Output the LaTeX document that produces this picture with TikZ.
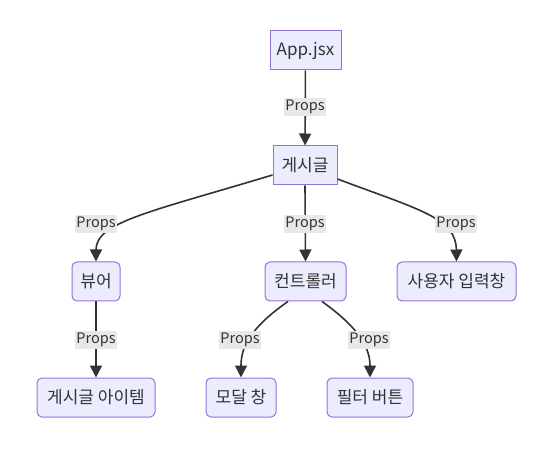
\documentclass[tikz,border=0pt]{standalone}
\usepackage{fontspec}
\setmainfont{Noto Sans CJK KR}
\usetikzlibrary{arrows.meta}
\definecolor{nodefill}{HTML}{ECECFF}
\definecolor{nodeline}{HTML}{9370DB}
\definecolor{ink}{HTML}{333333}
\definecolor{lblfill}{HTML}{E8E8E8}
\begin{document}
\begin{tikzpicture}[x=1pt,y=-1pt,
  font=\fontsize{17}{20}\selectfont,
  box/.style={draw=nodeline, fill=nodefill, line width=1pt, text=ink,
    inner xsep=2pt, inner ysep=0pt, minimum height=39pt},
  rbox/.style={box, rounded corners=5pt},
  lbl/.style={fill=lblfill, text=ink, inner xsep=1pt, inner ysep=0pt,
    minimum height=18pt, font=\fontsize{14.5}{17}\selectfont},
  edge/.style={draw=ink, line width=1.6pt,
    -{Triangle[length=12pt,width=12pt]}}]
\useasboundingbox (0,0) rectangle (560,457);

% nodes
\node[box,  minimum width=71pt]  (app)   at (305.5,50.5)  {App.jsx};
\node[box,  minimum width=64pt]  (post)  at (305,165.5)   {게시글};
\node[rbox, minimum width=48pt]  (view)  at (96,281.5)    {뷰어};
\node[rbox, minimum width=81pt]  (ctrl)  at (305.5,281.5) {컨트롤러};
\node[rbox, minimum width=119pt] (input) at (456.5,281.5) {사용자 입력창};
\node[rbox, minimum width=118pt] (item)  at (96,397.5)    {게시글 아이템};
\node[rbox, minimum width=70pt]  (modal) at (241,397.5)   {모달 창};
\node[rbox, minimum width=86pt]  (filt)  at (370,397.5)   {필터 버튼};

% connectors
\draw[edge] (app) -- (post);
\draw[edge] (post.south) -- (ctrl.north);
\draw[edge] (view) -- (item);
\draw[edge] (post.west |- 0,175) .. controls (150,212) and (96,222) .. (view.north);
\draw[edge] (post.east |- 0,179) .. controls (420,210) and (456,218) .. (input.north);
\draw[edge] (ctrl.south -| 288,0) .. controls (247,330) and (241,350) .. (modal.north);
\draw[edge] (ctrl.south -| 322,0) .. controls (362,330) and (370,350) .. (filt.north);

% edge labels
\node[lbl] (l1) at (305,107) {Props};
\node[lbl] (l2) at (96,224)  {Props};
\node[lbl] (l3) at (305,224) {Props};
\node[lbl] (l4) at (456,224) {Props};
\node[lbl] (l5) at (96,340)  {Props};
\node[lbl] (l6) at (240,340) {Props};
\node[lbl] (l7) at (369,340) {Props};
\end{tikzpicture}
\end{document}
